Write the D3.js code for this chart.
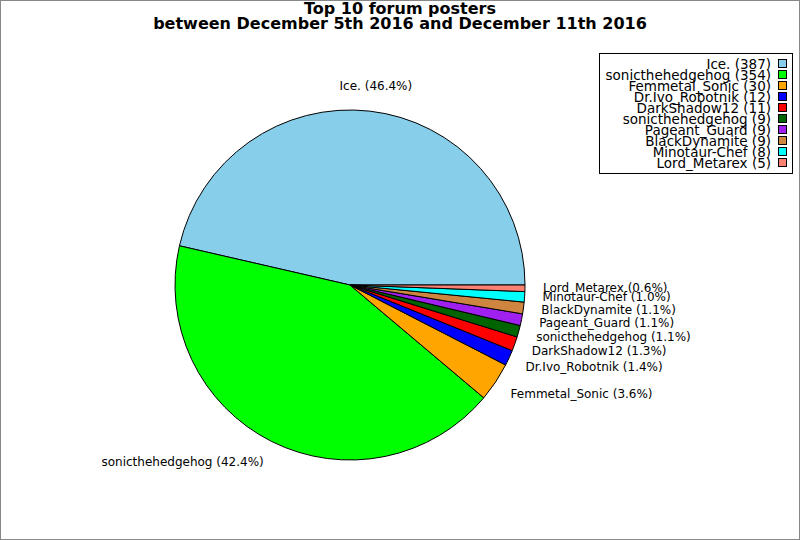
<!DOCTYPE html>
<html>
<head>
<meta charset="utf-8">
<script src="https://cdn.jsdelivr.net/npm/d3@7"></script>
<style>
  body { margin: 0; background: #fff; }
  svg { display: block; font-family: "DejaVu Sans", sans-serif; }
</style>
</head>
<body>
<script>
// data
var posters = ["Ice.", "sonicthehedgehog", "Femmetal_Sonic", "Dr.Ivo_Robotnik", "DarkShadow12",
               "sonicthehedgehog", "Pageant_Guard", "BlackDynamite", "Minotaur-Chef", "Lord_Metarex"];
var posts = [387, 354, 30, 12, 11, 9, 9, 9, 8, 5];
var colors = ["#87ceeb", "#00ff00", "#ffa500", "#0000ff", "#ff0000",
              "#006400", "#a020f0", "#cd853f", "#00ffff", "#fa8072"];
var titleLines = ["Top 10 forum posters", "between December 5th 2016 and December 11th 2016"];

var width = 800, height = 540;
var cx = 350, cy = 285, radius = 175;
var total = d3.sum(posts);

var svg = d3.select("body").append("svg")
    .attr("width", width)
    .attr("height", height);

svg.append("rect")
    .attr("x", 0.5).attr("y", 0.5)
    .attr("width", width - 1).attr("height", height - 1)
    .attr("fill", "#fff")
    .attr("stroke", "#888");

// title
svg.append("g").selectAll("text")
    .data(titleLines)
  .enter().append("text")
    .attr("x", 400)
    .attr("y", function(d, i) { return 14 + i * 14.5; })
    .attr("text-anchor", "middle")
    .attr("font-size", 16)
    .attr("font-weight", "bold")
    .text(function(d) { return d; });

// pie starts at 3 o'clock and runs counter-clockwise
var pie = d3.pie()
    .sort(null)
    .startAngle(Math.PI / 2)
    .endAngle(Math.PI / 2 - 2 * Math.PI);

var arc = d3.arc().innerRadius(0).outerRadius(radius);
var slices = pie(posts);

var g = svg.append("g").attr("transform", "translate(" + cx + "," + cy + ")");

g.selectAll("path")
    .data(slices)
  .enter().append("path")
    .attr("d", arc)
    .attr("fill", function(d, i) { return colors[i]; })
    .attr("stroke", "#000")
    .attr("stroke-width", 1)
    .attr("stroke-linejoin", "round");

// labels outside the pie
var labelR = 193;
var labels = g.selectAll("text.lbl")
    .data(slices)
  .enter().append("text")
    .attr("class", "lbl")
    .attr("font-size", 12)
    .text(function(d, i) { return posters[i] + " (" + (100 * d.value / total).toFixed(1) + "%)"; });

labels.each(function(d) {
    var mid = (d.startAngle + d.endAngle) / 2;
    var a = Math.PI / 2 - mid;          // math angle, ccw from +x
    var c = Math.cos(a), s = Math.sin(a);
    var px = labelR * c, py = -labelR * s;
    var bb = this.getBBox();
    var dx = c > 0.5 ? 0 : (c < -0.3 ? 1 : (1 - c) / 2);
    var dy = 0.5 + 0.5 * s;
    var left = px - dx * bb.width;
    var top = py - dy * 12;
    d3.select(this)
        .attr("x", left)
        .attr("y", top + 9);
});

// legend
var lgX = 599, lgY = 53, lgW = 193, lgH = 120;
var legend = svg.append("g");
legend.append("rect")
    .attr("x", lgX + 0.5).attr("y", lgY + 0.5)
    .attr("width", lgW).attr("height", lgH)
    .attr("fill", "#fff")
    .attr("stroke", "#000");

var rows = legend.selectAll("g.row")
    .data(posters)
  .enter().append("g")
    .attr("class", "row")
    .attr("transform", function(d, i) { return "translate(0," + (64 + i * 11) + ")"; });

rows.append("rect")
    .attr("x", 778.5).attr("y", -4.5)
    .attr("width", 8).attr("height", 8)
    .attr("fill", function(d, i) { return colors[i]; })
    .attr("stroke", "#000");

rows.append("text")
    .attr("x", 771)
    .attr("y", 4.5)
    .attr("text-anchor", "end")
    .attr("font-size", 13.5)
    .text(function(d, i) { return d + " (" + posts[i] + ")"; });
</script>
</body>
</html>
